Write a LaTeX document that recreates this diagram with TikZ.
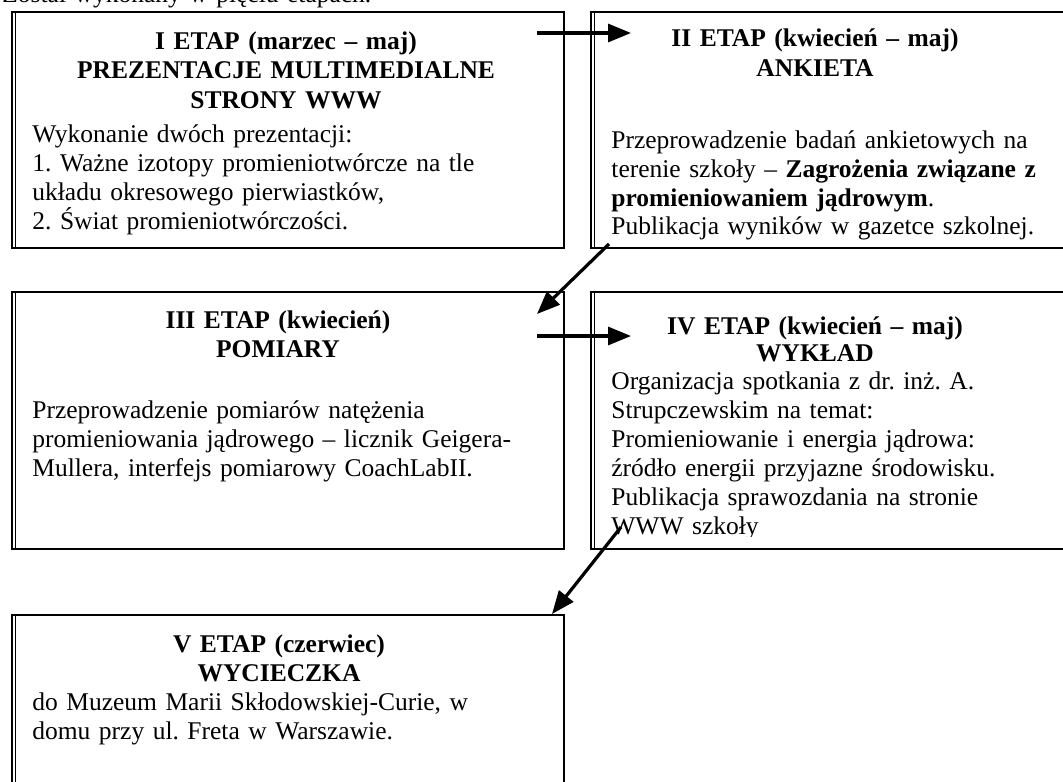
\documentclass[tikz,border=0pt]{standalone}
\usepackage{fontspec}
\setmainfont{Liberation Serif}
\usetikzlibrary{arrows.meta}
\frenchspacing

\tikzset{
  etap/.style={draw, line width=0.9pt, inner sep=0pt, outer sep=0pt, anchor=north west},
  tytul/.style={font=\fontsize{12.75}{14.5}\selectfont\bfseries, align=center, text width=250pt, inner sep=0pt, anchor=base},
  opis/.style={font=\fontsize{12.75}{14.5}\selectfont, align=left, text width=290pt, inner sep=0pt, anchor=base west},
  strzalka/.style={-{Triangle[length=11.5pt,width=9pt]}, line width=1.6pt}
}

\begin{document}
\begin{tikzpicture}[x=0.5pt,y=-0.5pt]
            \useasboundingbox (0,0) rectangle (1063,781);
            \clip (0,0) rectangle (1063,781);
            % Line above the boxes
            \node[opis] (wstep) at (2,3) {Został wykonany w pięciu etapach.};
            % Draw boxes
            \node[etap, minimum width=276pt, minimum height=118pt] (etapI) at (12,12) {};
            \node[etap, minimum width=242pt, minimum height=118pt] (etapII) at (591,12) {};
            \node[etap, minimum width=276pt, minimum height=128.5pt] (etapIII) at (12,292) {};
            \node[etap, minimum width=242pt, minimum height=128.5pt] (etapIV) at (591,292) {};
            \node[etap, minimum width=276pt, minimum height=95pt] (etapV) at (12,615) {};
            \foreach \b in {etapI,etapII,etapIII,etapIV,etapV}
              \draw[line width=0.4pt] ([xshift=1.6pt]\b.north west) -- ([xshift=1.6pt]\b.south west);
            % Stage I
            \node[tytul] (tytI) at (286,50) {I ETAP (marzec – maj)\\PREZENTACJE MULTIMEDIALNE\\STRONY WWW};
            \node[opis] (opisI) at (32,142) {Wykonanie dwóch prezentacji:\\1. Ważne izotopy promieniotwórcze na tle\\układu okresowego pierwiastków,\\2. Świat promieniotwórczości.};
            % Stage II
            \node[tytul] (tytII) at (815,47) {II ETAP (kwiecień – maj)\\ANKIETA};
            \node[opis] (opisII) at (611,148) {Przeprowadzenie badań ankietowych na\\terenie szkoły – \textbf{Zagrożenia związane z}\\\textbf{promieniowaniem jądrowym}.\\Publikacja wyników w gazetce szkolnej.};
            % Stage III
            \node[tytul] (tytIII) at (278,328) {III ETAP (kwiecień)\\POMIARY};
            \node[opis] (opisIII) at (32,418) {Przeprowadzenie pomiarów natężenia\\promieniowania jądrowego – licznik Geigera-\\Mullera, interfejs pomiarowy CoachLabII.};
            % Stage IV (text cut by the box)
            \node[tytul] (tytIV) at (815,334) {IV ETAP (kwiecień – maj)\\[-1pt]WYKŁAD};
            \begin{scope}
              \clip (591,292) rectangle (1063,536);
              \node[opis] (opisIV) at (611,389) {Organizacja spotkania z dr. inż. A.\\Strupczewskim na temat:\\Promieniowanie i energia jądrowa:\\źródło energii przyjazne środowisku.\\Publikacja sprawozdania na stronie\\WWW szkoły};
            \end{scope}
            % Stage V
            \node[tytul] (tytV) at (279,652) {V ETAP (czerwiec)\\WYCIECZKA};
            \node[opis] (opisV) at (32,710) {do Muzeum Marii Skłodowskiej-Curie, w\\domu przy ul. Freta w Warszawie.};
            % Arrows between stages
            \coordinate (s1) at (537,33);  \coordinate (e1) at (631,33);
            \coordinate (s2) at (609,244); \coordinate (e2) at (537,314);
            \coordinate (s3) at (537,336); \coordinate (e3) at (631,336);
            \coordinate (s4) at (621,527); \coordinate (e4) at (552,614);
            \draw[strzalka] (s1) -- (e1);
            \draw[strzalka] (s2) -- (e2);
            \draw[strzalka] (s3) -- (e3);
            \draw[strzalka] (s4) -- (e4);
\end{tikzpicture}
\end{document}
